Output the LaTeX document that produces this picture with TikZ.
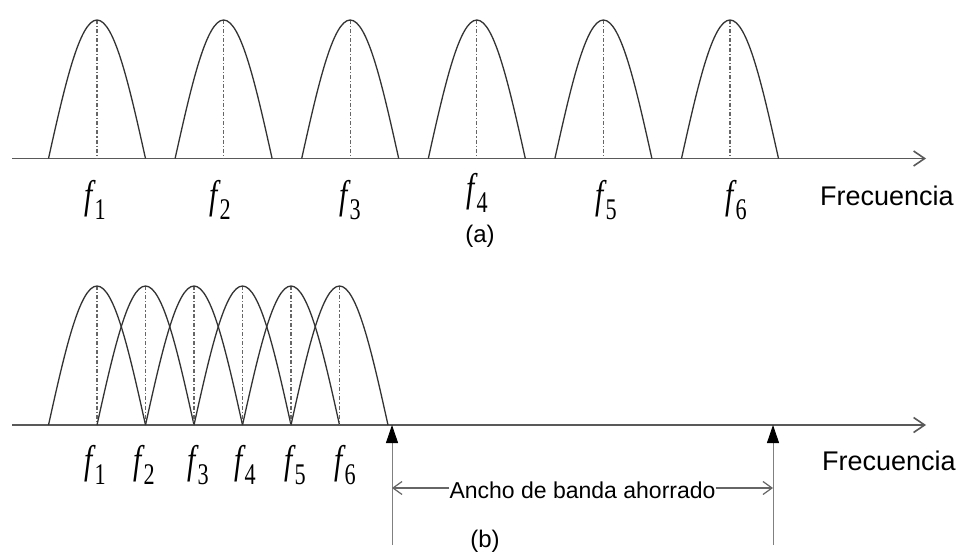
\documentclass[tikz,border=0pt]{standalone}
\usepackage{fontspec}
\setmainfont{Liberation Serif}
\newfontfamily\arialfam{Liberation Sans}
\usepackage{graphicx}
\usetikzlibrary{arrows.meta}
\newcommand\flab[1]{\scalebox{0.74}[1]{\fontsize{40}{40}\selectfont\textit{f}\kern-2pt\raisebox{-11pt}{\fontsize{30}{30}\selectfont #1}}}
\begin{document}
\begin{tikzpicture}[x=1pt,y=-1pt,
  lobe/.style={draw=black!80, line width=1.3pt},
  cline/.style={draw=black!60, line width=1.3pt, dash pattern=on 4pt off 2pt on 1.2pt off 2pt},
  axisline/.style={draw=black!65, line width=1.6pt, -{Straight Barb[length=11pt,width=15pt,line width=1.6pt]}},
  upline/.style={draw=black!50, line width=0.9pt, -{Triangle[length=18pt,width=12pt,color=black]}},
  dimline/.style={draw=black!60, line width=1.2pt, -{Straight Barb[length=9pt,width=13pt,line width=1.2pt]}},
  flabel/.style={anchor=base, inner sep=0pt},
  sans/.style={font=\arialfam\fontsize{#1}{#1}\selectfont, inner sep=0pt},
]
\useasboundingbox[fill=white] (0,0) rectangle (958,556);

% ---------- (a) ----------
\coordinate (A0) at (12,158.5);
\coordinate (A1) at (926,158.5);
\draw[axisline] (A0) -- (A1);
\foreach \k in {0,...,5}{
  \pgfmathsetmacro\xc{97+126.6*\k}
  \draw[cline] (\xc,20) -- (\xc,158.5);
  \draw[lobe] ({\xc-48.5},158.5) sin (\xc,20) cos ({\xc+48.5},158.5);
}
\foreach \x/\y/\n in {95/208/1,220/208/2,350/208/3,477/202/4,606/208/5,736/208/6}{
  \node[flabel] (ta\n) at (\x,\y) {\flab{\n}};
}
\node[sans=27, anchor=base west] (fa) at (820,205) {Frecuencia};
\node[sans=24, anchor=base] (la) at (480,242) {(a)};

% ---------- (b) ----------
\coordinate (B0) at (12,425);
\coordinate (B1) at (926,425);
\draw[axisline] (B0) -- (B1);
\foreach \k in {0,...,5}{
  \pgfmathsetmacro\xc{97+48.5*\k}
  \draw[cline] (\xc,286) -- (\xc,425);
  \draw[lobe] ({\xc-48.5},425) sin (\xc,286) cos ({\xc+48.5},425);
}
\foreach \x/\n in {95/1,144/2,198/3,245/4,295/5,345/6}{
  \node[flabel] (tb\n) at (\x,473) {\flab{\n}};
}
\node[sans=27, anchor=base west] (fb) at (822,470) {Frecuencia};

\coordinate (L0) at (392,545);
\coordinate (L1) at (392,425);
\coordinate (R0) at (773,545);
\coordinate (R1) at (773,425);
\draw[upline] (L0) -- (L1);
\draw[upline] (R0) -- (R1);

\node[sans=23, anchor=base] (bw) at (582.5,498) {Ancho de banda ahorrado};
\coordinate (DL) at (392,488);
\coordinate (DR) at (773,488);
\draw[dimline] (bw.west |- DL) -- (DL);
\draw[dimline] (bw.east |- DR) -- (DR);
\node[sans=24, anchor=base] (lb) at (485,547) {(b)};
\end{tikzpicture}
\end{document}
